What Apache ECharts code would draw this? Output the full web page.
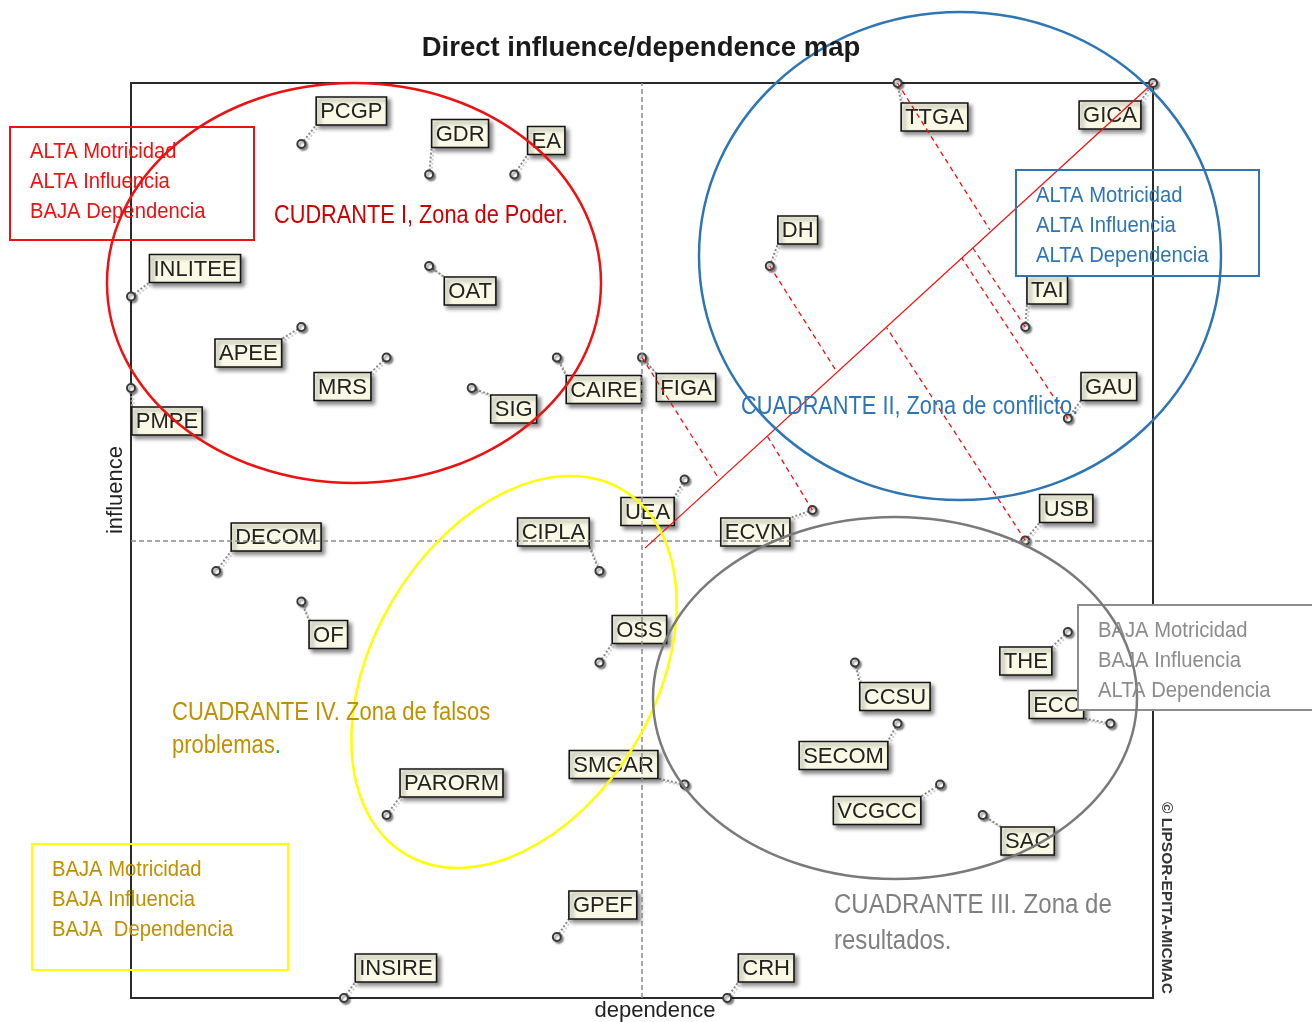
<!DOCTYPE html>
<html>
<head>
<meta charset="utf-8">
<script src="https://cdn.jsdelivr.net/npm/echarts@6/dist/echarts.min.js"></script>
<style>
html,body{margin:0;padding:0;background:#fff;}
#chart{width:1312px;height:1022px;}
</style>
</head>
<body>
<div id="chart"></div>
<script>
// ---------- DATA ----------
const names = ['PCGP','GDR','EA','INLITEE','OAT','APEE','MRS','PMPE','SIG','CAIRE','FIGA',
  'TTGA','GICA','DH','TAI','GAU','UEA','ECVN','USB','CIPLA','DECOM','OF','OSS','THE',
  'CCSU','ECC','SECOM','SMGAR','PARORM','VCGCC','SAC','GPEF','INSIRE','CRH'];
const dependence = [4,7,9,0,7,4,6,0,8,10,12,
  18,24,15,21,22,13,16,21,11,2,4,11,22,
  17,23,18,13,6,19,20,10,5,14];
const influence = [28,27,27,23,24,22,21,20,20,21,21,
  30,30,24,22,19,17,16,15,14,14,13,11,12,
  11,9,9,7,6,7,6,2,0,0];
const meanDependence = 12;
const meanInfluence = 15;
const axisMaxDependence = 24;
const axisMaxInfluence = 30;
// diagonal and projections (data units)
const diagonalStart = [12.07, 14.75];
const diagonalEnd = [24, 30];
const projectionFrom = ['FIGA','DH','TTGA','TAI','GAU','USB','ECVN'];
const projectionFoot = [[13.78,17.08],[16.58,20.52],[20.17,25.18],[19.77,24.59],[19.51,24.26],[17.75,21.97],[14.94,18.43]];

// ---------- LAYOUT (label offsets in px) ----------
const labelOffset = {
  PCGP:[50,-33], GDR:[31,-41], EA:[32,-34], INLITEE:[64,-28], OAT:[41,25], APEE:[-53,26],
  MRS:[-44,29], PMPE:[36,33], SIG:[42,21], CAIRE:[47,32], FIGA:[44,30], TTGA:[37,34],
  GICA:[-43,32], DH:[28,-36], TAI:[22,-37], GAU:[41,-32], UEA:[-37,32], ECVN:[-57,22],
  USB:[41,-32], CIPLA:[-46,-39], DECOM:[60,-34], OF:[27,33], OSS:[40,-33], THE:[-42,29],
  CCSU:[40,34], ECC:[-54,-19], SECOM:[-54,32], SMGAR:[-71,-20], PARORM:[65,-32],
  VCGCC:[-63,26], SAC:[45,26], GPEF:[46,-32], INSIRE:[52,-30], CRH:[39,-30]
};

const SANS = '"Liberation Sans", Arial, sans-serif';
const LABEL_FONT = '22px ' + SANS;
const cv = document.createElement('canvas').getContext('2d');
cv.font = LABEL_FONT;
function tw(t){ return cv.measureText(t).width; }

const chart = echarts.init(document.getElementById('chart'), null, {renderer:'canvas'});

const idx = {}; names.forEach((n,i)=>idx[n]=i);
const projLines = projectionFrom.map((n,k)=>[
  {coord:[dependence[idx[n]], influence[idx[n]]]},
  {coord:projectionFoot[k]}
]);

function renderItem(params, api){
  const i = params.dataIndex;
  const name = names[i];
  const p = api.coord([api.value(0), api.value(1)]);
  const off = labelOffset[name] || [30,-30];
  const w = tw(name) + 8, h = 28;
  const lx = p[0] + off[0], ly = p[1] + off[1];
  const rx = lx - w/2, ry = ly - h/2;
  const qx = Math.max(rx, Math.min(p[0], rx + w));
  const qy = Math.max(ry, Math.min(p[1], ry + h));
  return {
    type:'group',
    children:[
      {type:'line', shape:{x1:p[0]+2,y1:p[1]+2,x2:qx+2,y2:qy+2}, style:{stroke:'#d0d0d0', lineWidth:2, lineDash:[2,2]}},
      {type:'line', shape:{x1:p[0],y1:p[1],x2:qx,y2:qy}, style:{stroke:'#8a8a8a', lineWidth:2, lineDash:[2,2]}},
      {type:'rect', shape:{x:rx, y:ry, width:w, height:h},
        style:{fill:'#f9f9e6', stroke:'#151515', lineWidth:1.6,
          shadowBlur:4, shadowOffsetX:3, shadowOffsetY:3, shadowColor:'rgba(0,0,0,0.45)'}},
      {type:'text', x:lx, y:ly+1, style:{text:name, font:LABEL_FONT, fill:'#222', align:'center', verticalAlign:'middle'}},
      {type:'circle', shape:{cx:p[0], cy:p[1], r:4},
        style:{fill:'#fff', stroke:'#3a3a3a', lineWidth:2, shadowBlur:2, shadowOffsetX:2, shadowOffsetY:2, shadowColor:'rgba(0,0,0,0.4)'}}
    ]
  };
}

function boxText(x, y, lines, color){
  return lines.map((t,k)=>({type:'text', x:x, y:y + k*30, z:60, scaleX:0.92,
    style:{text:t, font:'22px ' + SANS, fill:color, verticalAlign:'middle'}}));
}
function caption(x, y, text, color, size, sx){
  return {type:'text', x:x, y:y, z:60, scaleX:sx,
    style:{text:text, font:size + 'px ' + SANS, fill:color, verticalAlign:'middle'}};
}

const option = {
  animation:false,
  backgroundColor:'#fff',
  grid:{left:131, top:83, width:1022, height:915, show:true, borderColor:'#2a2a2a', borderWidth:2, backgroundColor:'transparent'},
  xAxis:{type:'value', min:0, max:axisMaxDependence, axisLine:{show:false}, axisTick:{show:false}, axisLabel:{show:false}, splitLine:{show:false}},
  yAxis:{type:'value', min:0, max:axisMaxInfluence, axisLine:{show:false}, axisTick:{show:false}, axisLabel:{show:false}, splitLine:{show:false}},
  series:[
    {type:'line', data:[], z:1, silent:true,
      markLine:{symbol:'none', silent:true, label:{show:false},
        lineStyle:{color:'#8a8a8a', type:[5,3], width:1.5},
        data:[{xAxis:meanDependence},{yAxis:meanInfluence}]}},
    {type:'custom', renderItem:renderItem, clip:false, z:3,
      data:names.map((n,i)=>[dependence[i], influence[i]])},
    {type:'line', data:[], z:5, silent:true,
      markLine:{symbol:'none', silent:true, label:{show:false},
        data:[
          [{coord:diagonalStart, lineStyle:{color:'#ee1111', width:1.3, type:'solid'}},{coord:diagonalEnd}]
        ].concat(projLines.map(l=>[Object.assign({lineStyle:{color:'#ee1111', width:1.3, type:[5,4]}}, l[0]), l[1]]))}}
  ],
  graphic:[
    {type:'text', x:641, y:48, z:60, style:{text:'Direct influence/dependence map', font:'bold 27.5px ' + SANS, fill:'#1a1a1a', align:'center', verticalAlign:'middle'}},
    {type:'text', x:116, y:490, rotation:Math.PI/2, z:60, style:{text:'influence', font:'22px ' + SANS, fill:'#222', align:'center', verticalAlign:'middle'}},
    {type:'text', x:655, y:1011, z:60, style:{text:'dependence', font:'22px ' + SANS, fill:'#222', align:'center', verticalAlign:'middle'}},
    {type:'text', x:1166, y:898, rotation:-Math.PI/2, z:60, style:{text:'© LIPSOR-EPITA-MICMAC', font:'bold 15.5px ' + SANS, fill:'#333', align:'center', verticalAlign:'middle'}},
    // boxes
    {type:'rect', z:50, shape:{x:10, y:127, width:244, height:113}, style:{fill:'none', stroke:'#ee1111', lineWidth:2}},
    {type:'rect', z:50, shape:{x:1016, y:170, width:243, height:106}, style:{fill:'none', stroke:'#2e75b6', lineWidth:2}},
    {type:'rect', z:50, shape:{x:1078, y:605, width:240, height:105}, style:{fill:'#fff', stroke:'#8c8c8c', lineWidth:2}},
    {type:'rect', z:50, shape:{x:32, y:844, width:256, height:126}, style:{fill:'none', stroke:'#ffff00', lineWidth:2}},
    ...boxText(30, 152, ['ALTA Motricidad','ALTA Influencia','BAJA Dependencia'], '#ee1111'),
    ...boxText(1036, 196, ['ALTA Motricidad','ALTA Influencia','ALTA Dependencia'], '#2e75b6'),
    ...boxText(1098, 631, ['BAJA Motricidad','BAJA Influencia','ALTA Dependencia'], '#8c8c8c'),
    ...boxText(52, 870, ['BAJA Motricidad','BAJA Influencia','BAJA  Dependencia'], '#bf9000'),
    // quadrant captions
    caption(274, 216, 'CUDRANTE I, Zona de Poder.', '#cc0000', 25, 0.87),
    caption(741, 407, 'CUADRANTE II, Zona de conflicto.', '#2e75b6', 25, 0.87),
    caption(834, 906, 'CUADRANTE III. Zona de', '#808080', 27, 0.89),
    caption(834, 942, 'resultados.', '#808080', 27, 0.89),
    caption(172, 713, 'CUADRANTE IV. Zona de falsos', '#bf9000', 25, 0.88),
    {type:'text', x:172, y:746, z:60, scaleX:0.88,
      style:{text:'{a|problemas}{b|.}', font:'25px ' + SANS, verticalAlign:'middle',
        rich:{a:{fill:'#bf9000', font:'25px ' + SANS}, b:{fill:'#00b050', font:'25px ' + SANS}}}},
    // ellipses
    {type:'ellipse', z:55, shape:{cx:354, cy:283, rx:247, ry:200}, style:{fill:'none', stroke:'#ee1111', lineWidth:2.5}},
    {type:'ellipse', z:55, shape:{cx:960, cy:256, rx:261, ry:244}, style:{fill:'none', stroke:'#2e75b6', lineWidth:2.5}},
    {type:'ellipse', z:55, x:514, y:672, rotation:1.033, shape:{cx:0, cy:0, rx:212, ry:141}, style:{fill:'none', stroke:'#ffff00', lineWidth:2.5}},
    {type:'ellipse', z:55, shape:{cx:895, cy:698, rx:242, ry:181}, style:{fill:'none', stroke:'#7a7a7a', lineWidth:2.5}}
  ]
};
chart.setOption(option);
</script>
</body>
</html>
